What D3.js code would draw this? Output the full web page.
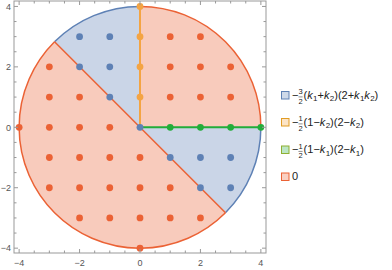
<!DOCTYPE html>
<html>
<head>
<meta charset="utf-8">
<script src="https://cdn.jsdelivr.net/npm/d3@7"></script>
<style>
  body { margin: 0; background: #fff; }
  svg { display: block; font-family: "Liberation Sans", Arial, sans-serif; }
</style>
</head>
<body>
<div id="chart"></div>
<script>
// ---- data ----
const radius = 4;
const majorTicks = [-4, -2, 0, 2, 4];
const minorTicks = [-3.5, -3, -2.5, -1.5, -1, -0.5, 0.5, 1, 1.5, 2.5, 3, 3.5];

const seriesNames = ['blue', 'orange', 'green', 'red'];
const legendLabels = [
  '−[3/2](k_1+k_2)(2+k_1k_2)',
  '−[1/2](1−k_2)(2−k_2)',
  '−[1/2](1−k_1)(2−k_1)',
  '0'
];

// sectors of the disk, angles in degrees (counter-clockwise from +k1)
const blueSectors = [[90, 135], [-45, 0]];
const redSectors = [[0, 90], [135, 315]];

const orangeSegment = [[0, 0], [0, 4]];
const greenSegment = [[0, 0], [4, 0]];

const bluePoints = [[0, 0], [-1, 1], [-2, 2], [-1, 2], [-2, 3], [-1, 3],
  [1, -1], [2, -1], [3, -1], [2, -2], [3, -2]];
const orangePoints = [[0, 1], [0, 2], [0, 3], [0, 4]];
const greenPoints = [[1, 0], [2, 0], [3, 0], [4, 0]];
const redPoints = [[1, 3], [2, 3],
  [-3, 2], [1, 2], [2, 2], [3, 2],
  [-3, 1], [-2, 1], [1, 1], [2, 1], [3, 1],
  [-4, 0], [-3, 0], [-2, 0], [-1, 0],
  [-3, -1], [-2, -1], [-1, -1], [0, -1],
  [-3, -2], [-2, -2], [-1, -2], [0, -2], [1, -2],
  [-2, -3], [-1, -3], [0, -3], [1, -3], [2, -3],
  [0, -4]];

// ---- styles ----
const colors = {
  blue: '#5e81b5',
  orange: '#f4a443',
  green: '#22ad3a',
  red: '#eb6235'
};
const swatchStroke = { blue: '#5e81b5', orange: '#e19c24', green: '#8fb032', red: '#eb6235' };

const width = 392;
const height = 270;
const frame = { left: 14, right: 266, top: 1, bottom: 253 };

const svg = d3.select('#chart')
  .append('svg')
  .attr('width', width)
  .attr('height', height);

const x = d3.scaleLinear().domain([-4.17, 4.17]).range([frame.left, frame.right]);
const y = d3.scaleLinear().domain([-4.16, 4.18]).range([frame.bottom, frame.top]);

const cx = x(0);
const cy = y(0);
const rPx = x(radius) - x(0);
const rad = deg => deg * Math.PI / 180;

// sector fills (d3.arc angles run clockwise from 12 o'clock)
const sectorArc = d3.arc().innerRadius(0).outerRadius(rPx);
function sectorPath(s) {
  return sectorArc({ startAngle: rad(90 - s[1]), endAngle: rad(90 - s[0]) });
}

const plot = svg.append('g');

plot.selectAll('path.red-fill')
  .data(redSectors)
  .enter()
  .append('path')
  .attr('class', 'red-fill')
  .attr('transform', `translate(${cx},${cy})`)
  .attr('d', sectorPath)
  .attr('fill', colors.red)
  .attr('fill-opacity', 0.33);

plot.selectAll('path.blue-fill')
  .data(blueSectors)
  .enter()
  .append('path')
  .attr('class', 'blue-fill')
  .attr('transform', `translate(${cx},${cy})`)
  .attr('d', sectorPath)
  .attr('fill', colors.blue)
  .attr('fill-opacity', 0.33);

// arc outlines
function arcOnly(s) {
  const p = d3.path();
  p.arc(cx, cy, rPx, -rad(s[0]), -rad(s[1]), true);
  return p.toString();
}

plot.selectAll('path.blue-arc')
  .data(blueSectors)
  .enter()
  .append('path')
  .attr('d', arcOnly)
  .attr('fill', 'none')
  .attr('stroke', colors.blue)
  .attr('stroke-width', 1.5);

plot.selectAll('path.red-arc')
  .data(redSectors)
  .enter()
  .append('path')
  .attr('d', arcOnly)
  .attr('fill', 'none')
  .attr('stroke', colors.red)
  .attr('stroke-width', 1.5);

// straight edge between the red half and the blue sectors
const diagAngle = rad(redSectors[1][0]);
plot.append('line')
  .attr('x1', x(radius * Math.cos(diagAngle)))
  .attr('y1', y(radius * Math.sin(diagAngle)))
  .attr('x2', x(-radius * Math.cos(diagAngle)))
  .attr('y2', y(-radius * Math.sin(diagAngle)))
  .attr('stroke', colors.red)
  .attr('stroke-width', 1.5);

const line = d3.line().x(d => x(d[0])).y(d => y(d[1]));

plot.append('path')
  .attr('d', line(orangeSegment))
  .attr('stroke', colors.orange)
  .attr('stroke-width', 2)
  .attr('fill', 'none');

plot.append('path')
  .attr('d', line(greenSegment))
  .attr('stroke', colors.green)
  .attr('stroke-width', 2)
  .attr('fill', 'none');

// lattice points
const pointSets = { red: redPoints, blue: bluePoints, orange: orangePoints, green: greenPoints };
['red', 'blue', 'orange', 'green'].forEach(name => {
  plot.append('g')
    .selectAll('circle')
    .data(pointSets[name])
    .enter()
    .append('circle')
    .attr('cx', d => x(d[0]))
    .attr('cy', d => y(d[1]))
    .attr('r', 3.4)
    .attr('fill', colors[name]);
});

// ---- frame and ticks ----
const axisColor = '#999';
const frameG = svg.append('g');

frameG.append('rect')
  .attr('x', frame.left)
  .attr('y', frame.top)
  .attr('width', frame.right - frame.left)
  .attr('height', frame.bottom - frame.top)
  .attr('fill', 'none')
  .attr('stroke', axisColor)
  .attr('stroke-width', 1);

function tickMarks(values, len) {
  values.forEach(v => {
    frameG.append('line').attr('x1', x(v)).attr('x2', x(v))
      .attr('y1', frame.bottom).attr('y2', frame.bottom - len).attr('stroke', axisColor);
    frameG.append('line').attr('x1', x(v)).attr('x2', x(v))
      .attr('y1', frame.top).attr('y2', frame.top + len).attr('stroke', axisColor);
    frameG.append('line').attr('y1', y(v)).attr('y2', y(v))
      .attr('x1', frame.left).attr('x2', frame.left + len).attr('stroke', axisColor);
    frameG.append('line').attr('y1', y(v)).attr('y2', y(v))
      .attr('x1', frame.right).attr('x2', frame.right - len).attr('stroke', axisColor);
  });
}
tickMarks(majorTicks, 4);
tickMarks(minorTicks, 2.5);

const fmt = v => (v < 0 ? '−' + Math.abs(v) : String(v));

frameG.selectAll('text.xl')
  .data(majorTicks)
  .enter()
  .append('text')
  .attr('x', d => x(d))
  .attr('y', frame.bottom + 13)
  .attr('text-anchor', 'middle')
  .attr('font-size', 9)
  .attr('fill', '#555')
  .text(fmt);

frameG.selectAll('text.yl')
  .data(majorTicks)
  .enter()
  .append('text')
  .attr('x', frame.left - 3)
  .attr('y', d => y(d) + 3.2)
  .attr('text-anchor', 'end')
  .attr('font-size', 9)
  .attr('fill', '#555')
  .text(fmt);

// ---- legend ----
const legendX = 281;
const legendY = [95, 122, 149.5, 176.5];
const legend = svg.append('g');

function tokenize(label) {
  const out = [];
  let i = 0;
  let buf = '';
  const flush = () => { if (buf) { out.push({ type: 'text', s: buf }); buf = ''; } };
  while (i < label.length) {
    const c = label[i];
    if (c === '[') {
      flush();
      const end = label.indexOf(']', i);
      const parts = label.slice(i + 1, end).split('/');
      out.push({ type: 'frac', num: parts[0], den: parts[1] });
      i = end + 1;
    } else if (c === 'k') {
      flush();
      out.push({ type: 'ital', s: 'k' });
      i++;
    } else if (c === '_') {
      flush();
      out.push({ type: 'sub', s: label[i + 1] });
      i += 2;
    } else {
      buf += c;
      i++;
    }
  }
  flush();
  return out;
}

legendLabels.forEach((label, i) => {
  const g = legend.append('g').attr('transform', `translate(${legendX},${legendY[i]})`);
  const name = seriesNames[i];

  g.append('rect')
    .attr('x', 0.5)
    .attr('y', -3.5)
    .attr('width', 7.5)
    .attr('height', 7.5)
    .attr('fill', colors[name])
    .attr('fill-opacity', 0.3)
    .attr('stroke', swatchStroke[name])
    .attr('stroke-width', 1);

  let cursor = 11;
  tokenize(label).forEach(tok => {
    if (tok.type === 'frac') {
      const num = g.append('text').attr('x', cursor).attr('y', -0.6)
        .attr('font-size', 7.5).attr('fill', '#222').text(tok.num);
      const den = g.append('text').attr('x', cursor).attr('y', 8.6)
        .attr('font-size', 7.5).attr('fill', '#222').text(tok.den);
      const w = Math.max(num.node().getComputedTextLength(), den.node().getComputedTextLength());
      g.append('line').attr('x1', cursor).attr('x2', cursor + w)
        .attr('y1', 1.9).attr('y2', 1.9).attr('stroke', '#222').attr('stroke-width', 0.5);
      cursor += w + 1;
    } else {
      const t = g.append('text')
        .attr('x', cursor)
        .attr('y', tok.type === 'sub' ? 6.3 : 3.8)
        .attr('font-size', tok.type === 'sub' ? 8 : 11)
        .attr('font-style', tok.type === 'ital' ? 'italic' : null)
        .attr('fill', '#222')
        .attr('xml:space', 'preserve')
        .text(tok.s);
      cursor += t.node().getComputedTextLength() + (tok.type === 'ital' ? 0.3 : 0);
    }
  });
});
</script>
</body>
</html>
